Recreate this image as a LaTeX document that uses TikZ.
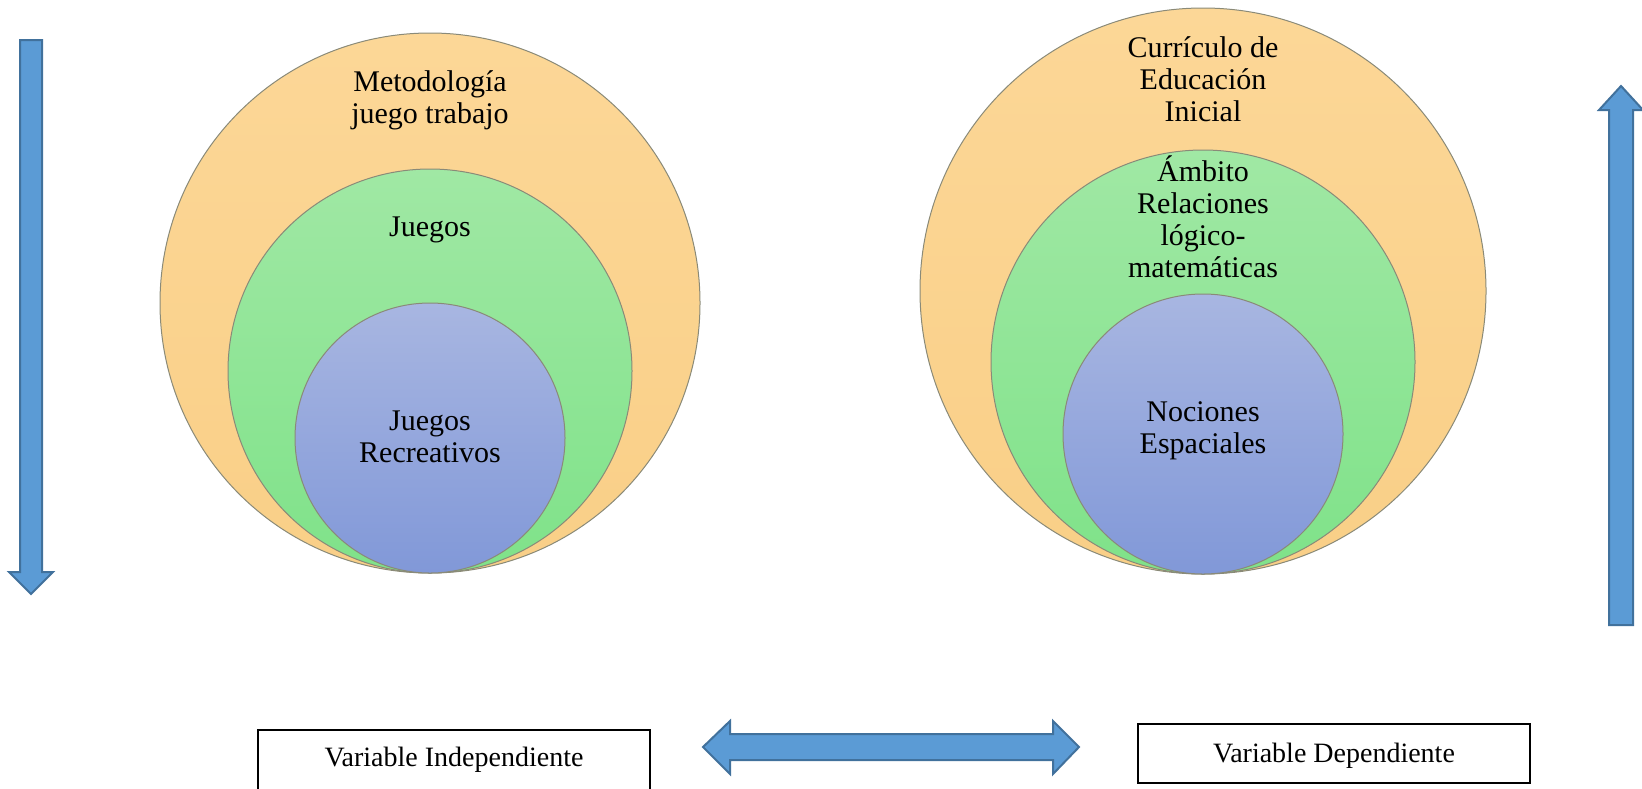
\documentclass[tikz,border=0pt]{standalone}
\usepackage{fontspec}
\setmainfont{Liberation Serif}

\definecolor{arrowfill}{HTML}{5B9BD5}
\definecolor{arrowline}{HTML}{41719C}
\definecolor{ringline}{HTML}{8A8A78}
\definecolor{orangetop}{HTML}{FCD797}
\definecolor{orangebot}{HTML}{F9CF87}
\definecolor{greentop}{HTML}{A0E8A4}
\definecolor{greenbot}{HTML}{7FE289}
\definecolor{bluetop}{HTML}{A8B6E1}
\definecolor{bluebot}{HTML}{8198D8}

\tikzset{
  ring/.style={circle, draw=ringline, line width=0.5pt, inner sep=0pt},
  orangering/.style={ring, top color=orangetop, bottom color=orangebot},
  greenring/.style={ring, top color=greentop, bottom color=greenbot},
  bluering/.style={ring, top color=bluetop, bottom color=bluebot},
  ringtext/.style={align=center, font=\fontsize{15}{16}\selectfont},
  bigarrow/.style={fill=arrowfill, draw=arrowline, line width=1pt, line join=miter},
  varbox/.style={draw=black, line width=1pt},
  vartext/.style={font=\fontsize{14}{16}\selectfont}
}

\begin{document}
\begin{tikzpicture}[x=0.5pt, y=-0.5pt]
  \useasboundingbox (0,0) rectangle (1642,788);

  % left set of circles
  \node[orangering, minimum size=270pt] (metodo) at (430,303) {};
  \node[greenring, minimum size=202pt] (juegos) at (430,371) {};
  \node[bluering, minimum size=135pt] (recreativos) at (430,438) {};
  \node[ringtext] (metodoTxt) at (430,100) {Metodología\\juego trabajo};
  \node[ringtext] (juegosTxt) at (430,230) {Juegos};
  \node[ringtext] (recreativosTxt) at (430,437) {Juegos\\Recreativos};

  % right set of circles
  \node[orangering, minimum size=283pt] (curriculo) at (1203,291) {};
  \node[greenring, minimum size=212pt] (ambito) at (1203,362) {};
  \node[bluering, minimum size=140pt] (nociones) at (1203,434) {};
  \node[ringtext] (curriculoTxt) at (1203,79) {Currículo de\\Educación\\Inicial};
  \node[ringtext] (ambitoTxt) at (1203,217) {Ámbito\\Relaciones\\lógico-\\matemáticas};
  \node[ringtext] (nocionesTxt) at (1203,431) {Nociones\\Espaciales};

  % block arrows
  \draw[bigarrow] (20,40) -- (42,40) -- (42,572) -- (53,572) -- (31,594)
    -- (9,572) -- (20,572) -- cycle;
  \draw[bigarrow] (1609,625) -- (1633,625) -- (1633,110) -- (1643,110) -- (1621,86)
    -- (1599,110) -- (1609,110) -- cycle;
  \draw[bigarrow] (703,747) -- (730,721) -- (730,734) -- (1053,734) -- (1053,721)
    -- (1079,747) -- (1053,774) -- (1053,760) -- (730,760) -- (730,774) -- cycle;

  % variable boxes
  \draw[varbox] (258,730) rectangle (650,800);
  \node[vartext] (indep) at (454,760) {Variable Independiente};
  \draw[varbox] (1138,724) rectangle (1530,783);
  \node[vartext] (dep) at (1334,756) {Variable Dependiente};
\end{tikzpicture}
\end{document}
